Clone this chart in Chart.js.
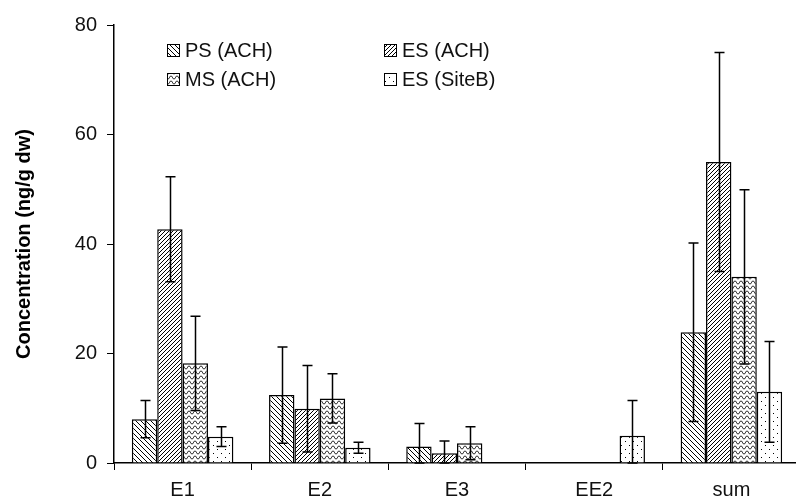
<!DOCTYPE html>
<html><head><meta charset="utf-8">
<script src="https://cdn.jsdelivr.net/npm/chart.js@4/dist/chart.umd.min.js"></script>
<style>html,body{margin:0;padding:0;background:#fff;overflow:hidden}
#wrap{position:relative;width:800px;height:504px}
</style></head><body><div id="wrap"><canvas id="c" width="800" height="504"></canvas></div>
<script>
const categories = ['E1', 'E2', 'E3', 'EE2', 'sum'];
const seriesNames = ['PS (ACH)', 'ES (ACH)', 'MS (ACH)', 'ES (SiteB)'];
const psValues = [8.0, 12.4, 3.0, null, 23.9];
const psErrors = [3.4, 8.8, 4.2, null, 16.3];
const esValues = [42.7, 9.9, 1.8, null, 55.0];
const esErrors = [9.6, 7.9, 2.2, null, 20.0];
const msValues = [18.2, 11.8, 3.6, null, 34.0];
const msErrors = [8.6, 4.5, 3.0, null, 15.9];
const sbValues = [4.8, 2.8, null, 5.0, 13.0];
const sbErrors = [1.8, 1.0, null, 6.4, 9.2];
const yTicks = [0, 20, 40, 60, 80];

const FONT = "'Liberation Sans', Arial, sans-serif";

function makePattern(type) {
  const c = document.createElement('canvas');
  const ctx = c.getContext('2d');
  let w = 6, h = 6;
  if (type === 'back') { w = h = 5; }
  if (type === 'fwd') { w = h = 4; }
  if (type === 'wave') { w = 6; h = 5; }
  if (type === 'dots') { w = 8; h = 8; }
  c.width = w; c.height = h;
  ctx.fillStyle = '#fff'; ctx.fillRect(0, 0, w, h);
  ctx.strokeStyle = '#000'; ctx.fillStyle = '#000'; ctx.lineWidth = 1;
  if (type === 'back') {
    ctx.beginPath();
    for (const k of [-w, 0, w]) { ctx.moveTo(k, 0); ctx.lineTo(k + w, h); }
    ctx.stroke();
  } else if (type === 'fwd') {
    ctx.beginPath();
    for (const k of [-w, 0, w]) { ctx.moveTo(k, h); ctx.lineTo(k + w, 0); }
    ctx.stroke();
  } else if (type === 'wave') {
    ctx.beginPath();
    for (let x = 0; x <= w; x += 0.5) {
      const yy = h / 2 + 1.6 * Math.cos(2 * Math.PI * x / w);
      if (x === 0) ctx.moveTo(x, yy); else ctx.lineTo(x, yy);
    }
    ctx.stroke();
  } else if (type === 'dots') {
    ctx.fillRect(1, 1, 1, 1);
    ctx.fillRect(5, 5, 1, 1);
  }
  return ctx.createPattern(c, 'repeat');
}
const fills = [makePattern('back'), makePattern('fwd'), makePattern('wave'), makePattern('dots')];

const errorBarPlugin = {
  id: 'errorBars',
  afterDatasetsDraw(chart) {
    const ctx = chart.ctx, y = chart.scales.y;
    ctx.save();
    ctx.strokeStyle = '#000'; ctx.lineWidth = 1.5;
    chart.data.datasets.forEach((ds, i) => {
      const meta = chart.getDatasetMeta(i);
      meta.data.forEach((bar, j) => {
        const v = ds.data[j], e = ds.errors[j];
        if (v == null || e == null) return;
        const x = Math.round(bar.x) + 0.5;
        const yt = y.getPixelForValue(v + e), yb = y.getPixelForValue(Math.max(v - e, 0));
        ctx.beginPath();
        ctx.moveTo(x, yt); ctx.lineTo(x, yb);
        ctx.moveTo(x - 5, yt); ctx.lineTo(x + 5, yt);
        ctx.moveTo(x - 5, yb); ctx.lineTo(x + 5, yb);
        ctx.stroke();
      });
    });
    ctx.restore();
  }
};

const legendPlugin = {
  id: 'cornerLegend',
  afterDraw(chart) {
    const ctx = chart.ctx;
    const pos = [[167, 44], [384, 44], [167, 73], [384, 73]];
    ctx.save();
    ctx.font = '20px ' + FONT;
    ctx.textBaseline = 'middle';
    chart.data.datasets.forEach((ds, i) => {
      const [x, y] = pos[i];
      ctx.fillStyle = ds.backgroundColor;
      ctx.fillRect(x, y, 13, 13);
      ctx.strokeStyle = '#000'; ctx.lineWidth = 1;
      ctx.strokeRect(x + 0.5, y + 0.5, 12, 12);
      ctx.fillStyle = '#111';
      ctx.fillText(ds.label, x + 18, y + 7);
    });
    ctx.restore();
  }
};

const seriesValues = [psValues, esValues, msValues, sbValues];
const seriesErrors = [psErrors, esErrors, msErrors, sbErrors];

new Chart(document.getElementById('c'), {
  type: 'bar',
  data: {
    labels: categories,
    datasets: seriesNames.map((n, i) => ({
      label: n,
      data: seriesValues[i],
      errors: seriesErrors[i],
      backgroundColor: fills[i],
      borderColor: '#000',
      borderWidth: 1.5,
      categoryPercentage: 0.74,
      barPercentage: 1.0
    }))
  },
  options: {
    responsive: false,
    animation: false,
    devicePixelRatio: 1,
    layout: { padding: { top: 25, left: 12, right: 0, bottom: 0 } },
    plugins: { legend: { display: false }, tooltip: { enabled: false } },
    scales: {
      x: {
        afterFit(scale) { scale.height = 41; },
        grid: { display: true, drawOnChartArea: false, drawTicks: true, tickLength: 7, color: '#000', offset: true },
        border: { display: true, color: '#000', width: 1.5 },
        ticks: { color: '#111', font: { family: FONT, size: 20 }, padding: 8 }
      },
      y: {
        min: 0, max: 80,
        afterBuildTicks(scale) { scale.ticks = yTicks.map(v => ({ value: v })); },
        afterFit(scale) { scale.width = 102; },
        grid: { display: true, drawOnChartArea: false, drawTicks: true, tickLength: 7, color: '#000' },
        border: { display: true, color: '#000', width: 1.5 },
        ticks: { color: '#111', font: { family: FONT, size: 20 }, padding: 10 },
        title: { display: true, text: 'Concentration (ng/g dw)', color: '#000', font: { family: FONT, size: 20, weight: 'bold' }, padding: { top: 0, bottom: 0 } }
      }
    }
  },
  plugins: [errorBarPlugin, legendPlugin]
});
</script></body></html>
